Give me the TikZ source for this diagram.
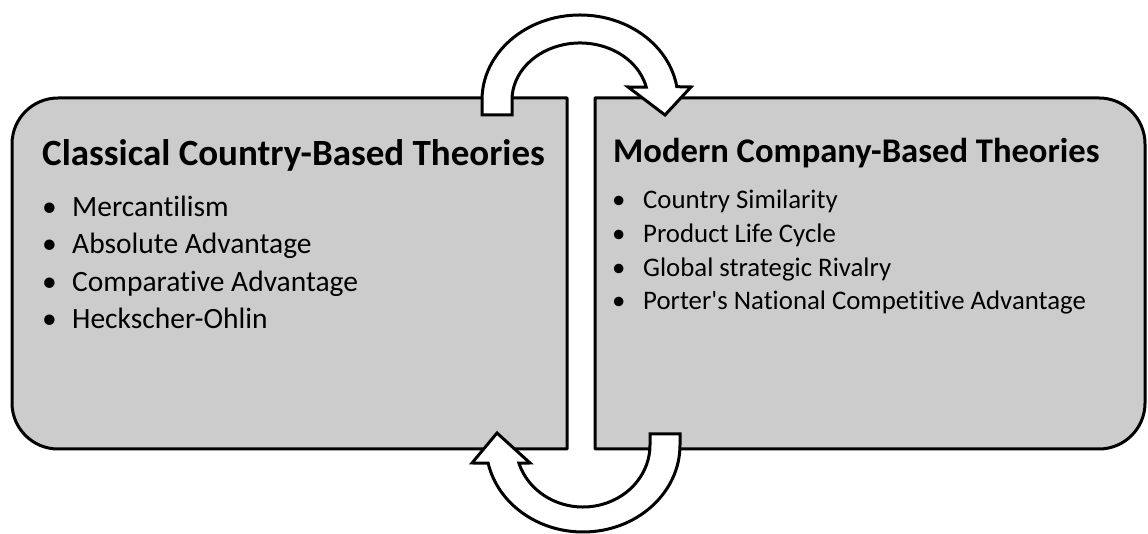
\documentclass[tikz,border=0pt]{standalone}
\usepackage{fontspec}
\setmainfont{Carlito}[Ligatures={NoCommon}]
\usepackage{xcolor}
\usepackage{tikz}
\usetikzlibrary{calc}
\definecolor{panelfill}{HTML}{CCCCCC}
\definecolor{ink}{HTML}{000000}
\tikzset{
  panel/.style={draw=ink, fill=panelfill, line width=3pt, line join=round},
  bendarrow/.style={draw=ink, fill=white, line width=3pt, line join=miter},
  leftheading/.style={font=\bfseries\fontsize{37}{44}\selectfont, anchor=base west, inner sep=0pt},
  rightheading/.style={font=\bfseries\fontsize{34.6}{42}\selectfont, anchor=base west, inner sep=0pt},
  leftitem/.style={font=\fontsize{29.5}{35}\selectfont, anchor=base west, inner sep=0pt},
  rightitem/.style={font=\fontsize{26.8}{32}\selectfont, anchor=base west, inner sep=0pt},
}
\newcommand{\bul}[1]{\makebox[#1][l]{\textbullet}}

\begin{document}
\begin{tikzpicture}[x=1pt,y=1pt]
  \useasboundingbox (0,0) rectangle (1148,534);

  % the two panels, rounded on the outer side only
  \draw[panel] (567,85) -- (567,436) -- (58,436)
    arc[start angle=90, end angle=180, radius=46] -- (12,131)
    arc[start angle=180, end angle=270, radius=46] -- cycle;
  \draw[panel] (595,85) -- (595,436) -- (1099,436)
    arc[start angle=90, end angle=0, radius=46] -- (1145,131)
    arc[start angle=0, end angle=-90, radius=46] -- cycle;

  % curved arrow over the top, left to right
  \coordinate (topc) at (580,434);
  \draw[bendarrow] (482,419) -- (482,434)
    arc[start angle=180, end angle=9, x radius=98, y radius=85]
    -- (691,447) -- (665,419) -- (628,447) -- ($(topc)+(13:68 and 57)$)
    arc[start angle=13, end angle=180, x radius=68, y radius=57]
    -- (512,419) -- cycle;

  % curved arrow under the bottom, right to left
  \coordinate (botc) at (583,89);
  \draw[bendarrow] (680,100) -- (680,89)
    arc[start angle=0, end angle=-168, x radius=97, y radius=87]
    -- (472,71) -- (497,101) -- (530,71) -- ($(botc)+(-163:67 and 62)$)
    arc[start angle=-163, end angle=0, x radius=67, y radius=62]
    -- (650,100) -- cycle;

  % left panel text
  \node[leftheading] (classical) at (42,368) {Classical Country-Based Theories};
  \node[leftitem] (merc) at (42,317) {\bul{30pt}Mercantilism};
  \node[leftitem] (absadv) at (42,280) {\bul{30pt}Absolute Advantage};
  \node[leftitem] (compadv) at (42,242) {\bul{30pt}Comparative Advantage};
  \node[leftitem] (ho) at (42,205) {\bul{30pt}Heckscher-Ohlin};

  % right panel text
  \node[rightheading] (modern) at (613,371) {Modern Company-Based Theories};
  \node[rightitem] (similar) at (612,325) {\bul{31pt}Country Similarity};
  \node[rightitem] (plc) at (612,291) {\bul{31pt}Product Life Cycle};
  \node[rightitem] (rivalry) at (612,257) {\bul{31pt}Global strategic Rivalry};
  \node[rightitem] (porter) at (612,224) {\bul{31pt}Porter\textquotesingle s National Competitive Advantage};
\end{tikzpicture}
\end{document}
